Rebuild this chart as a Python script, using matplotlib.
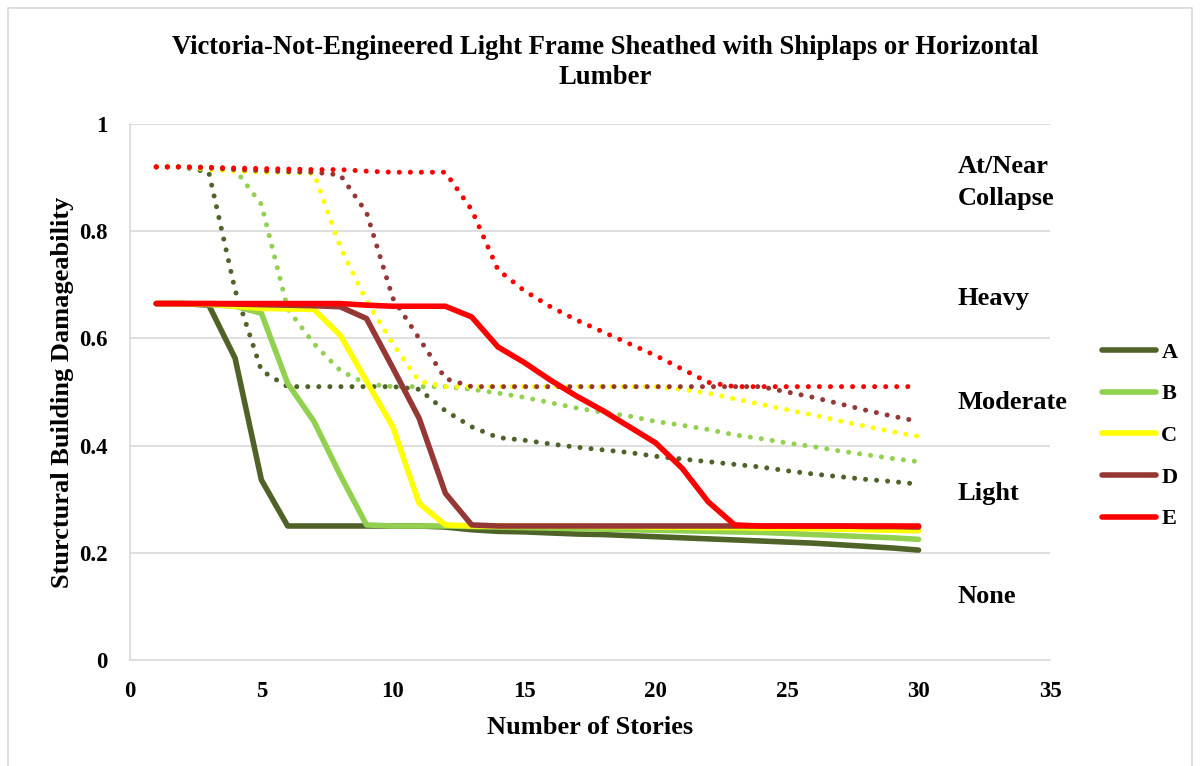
import matplotlib

matplotlib.use("Agg")
import matplotlib.pyplot as plt  # noqa: E402
from matplotlib.lines import Line2D  # noqa: E402
from matplotlib.patches import Rectangle  # noqa: E402

plt.rcParams["font.family"] = ["Liberation Serif", "DejaVu Serif"]
plt.rcParams["font.weight"] = "bold"

stories = list(range(1, 31))

# solid curves (A-E)
solid_a = [0.665, 0.665, 0.662, 0.563, 0.336, 0.25, 0.25, 0.25, 0.25, 0.25,
           0.25, 0.248, 0.243, 0.24, 0.239, 0.237, 0.235, 0.234, 0.232, 0.23,
           0.228, 0.226, 0.224, 0.222, 0.22, 0.218, 0.215, 0.212, 0.209, 0.205]
solid_b = [0.665, 0.665, 0.663, 0.66, 0.647, 0.516, 0.445, 0.345, 0.252, 0.25,
           0.25, 0.25, 0.249, 0.248, 0.247, 0.246, 0.245, 0.244, 0.243, 0.242,
           0.241, 0.24, 0.239, 0.238, 0.236, 0.234, 0.232, 0.23, 0.228, 0.225]
solid_c = [0.665, 0.665, 0.664, 0.66, 0.656, 0.655, 0.654, 0.606, 0.52, 0.435,
           0.292, 0.252, 0.25, 0.25, 0.25, 0.25, 0.25, 0.249, 0.249, 0.248,
           0.248, 0.247, 0.247, 0.246, 0.246, 0.245, 0.244, 0.243, 0.242, 0.241]
solid_d = [0.665, 0.665, 0.665, 0.664, 0.663, 0.662, 0.661, 0.659, 0.637, 0.545,
           0.451, 0.311, 0.252, 0.25, 0.25, 0.25, 0.25, 0.25, 0.25, 0.25,
           0.25, 0.25, 0.25, 0.25, 0.25, 0.25, 0.25, 0.249, 0.249, 0.248]
solid_e = [0.665, 0.665, 0.665, 0.665, 0.665, 0.665, 0.665, 0.665, 0.662, 0.66,
           0.66, 0.66, 0.64, 0.584, 0.555, 0.522, 0.492, 0.465, 0.435, 0.405,
           0.358, 0.295, 0.252, 0.25, 0.25, 0.25, 0.25, 0.25, 0.25, 0.25]

# dotted curves (same categories, upper bound)
dotted_a = [0.92, 0.92, 0.91, 0.69, 0.54, 0.51, 0.51, 0.51, 0.51, 0.51,
            0.505, 0.465, 0.435, 0.415, 0.41, 0.403, 0.397, 0.392, 0.387, 0.38,
            0.375, 0.37, 0.365, 0.36, 0.353, 0.347, 0.342, 0.337, 0.333, 0.328]
dotted_b = [0.92, 0.92, 0.92, 0.915, 0.85, 0.655, 0.59, 0.54, 0.515, 0.51,
            0.51, 0.51, 0.505, 0.498, 0.49, 0.48, 0.47, 0.462, 0.455, 0.445,
            0.438, 0.43, 0.42, 0.413, 0.405, 0.398, 0.39, 0.383, 0.376, 0.37]
dotted_c = [0.92, 0.92, 0.915, 0.912, 0.91, 0.91, 0.908, 0.77, 0.67, 0.59,
            0.52, 0.51, 0.51, 0.51, 0.51, 0.51, 0.51, 0.51, 0.51, 0.51,
            0.505, 0.498, 0.487, 0.477, 0.467, 0.457, 0.446, 0.436, 0.426, 0.417]
dotted_d = [0.92, 0.92, 0.918, 0.915, 0.913, 0.911, 0.91, 0.905, 0.835, 0.675,
            0.6, 0.525, 0.51, 0.51, 0.51, 0.51, 0.51, 0.51, 0.51, 0.51,
            0.51, 0.51, 0.51, 0.51, 0.5, 0.49, 0.478, 0.466, 0.455, 0.445]
dotted_e = [0.92, 0.92, 0.919, 0.918, 0.917, 0.916, 0.915, 0.915, 0.912, 0.91,
            0.91, 0.91, 0.84, 0.728, 0.689, 0.659, 0.634, 0.612, 0.59, 0.568,
            0.543, 0.518, 0.51, 0.51, 0.51, 0.51, 0.51, 0.51, 0.51, 0.51]

labels = ["A", "B", "C", "D", "E"]
colors = ["#4F6228", "#92D050", "#FFFF00", "#953735", "#FF0000"]

damage_states = ["At/Near\nCollapse", "Heavy", "Moderate", "Light", "None"]
state_levels = [0.89, 0.675, 0.481, 0.31, 0.118]

solids = [solid_a, solid_b, solid_c, solid_d, solid_e]
dotteds = [dotted_a, dotted_b, dotted_c, dotted_d, dotted_e]

fig = plt.figure(figsize=(12, 7.66), dpi=100)
ax = fig.add_axes([0.1083, 0.1384, 0.7667, 0.6997])

# outer chart frame
fig.patches.append(Rectangle((8 / 1200, -0.05), 1184 / 1200, 1 - 8 / 766 + 0.05,
                             transform=fig.transFigure, fill=False,
                             edgecolor="#D9D9D9", linewidth=1.2))

for vals, col in zip(dotteds, colors):
    ax.plot(stories, vals, color=col, linewidth=3.6,
            linestyle=(0, (0.01, 2.2)), dash_capstyle="round", zorder=2)

for vals, col, lab in zip(solids, colors, labels):
    ax.plot(stories, vals, color=col, linewidth=4.0, label=lab,
            solid_joinstyle="round", solid_capstyle="round", zorder=3)

ax.set_xlim(0, 35)
ax.set_ylim(0, 1)
ax.set_xticks(range(0, 36, 5))
ax.set_yticks([0, 0.2, 0.4, 0.6, 0.8, 1])
ax.set_yticklabels(["0", "0.2", "0.4", "0.6", "0.8", "1"])
ax.tick_params(length=0, labelsize=16.5)
ax.tick_params(axis="y", pad=16)
ax.tick_params(axis="x", pad=15)
ax.grid(axis="y", color="#D9D9D9", linewidth=1.2)
ax.set_axisbelow(True)
for side in ["top", "right"]:
    ax.spines[side].set_visible(False)
for side in ["left", "bottom"]:
    ax.spines[side].set_color("#D9D9D9")
    ax.spines[side].set_linewidth(1.2)

ax.set_xlabel("Number of Stories", fontsize=19, fontweight="bold", labelpad=10)
ax.set_ylabel("Sturctural Building Damageability", fontsize=19,
              fontweight="bold", labelpad=4)

fig.text(0.504, 0.918,
         "Victoria-Not-Engineered Light Frame Sheathed with Shiplaps or Horizontal\nLumber",
         ha="center", va="center", fontsize=19.2, fontweight="bold", linespacing=1.25)

for name, level in zip(damage_states, state_levels):
    ax.text(31.5, level, name, ha="left", va="center", fontsize=19,
            fontweight="bold", linespacing=1.5, clip_on=False)

handles = [Line2D([0], [0], color=c, linewidth=4.0, solid_capstyle="round")
           for c in colors]
fig.legend(handles, labels, loc="center left", bbox_to_anchor=(0.902, 0.431),
           frameon=False, handlelength=2.4, handletextpad=0.25,
           labelspacing=0.95, prop={"weight": "bold", "size": 16})

fig.savefig("out.png", dpi=100)
